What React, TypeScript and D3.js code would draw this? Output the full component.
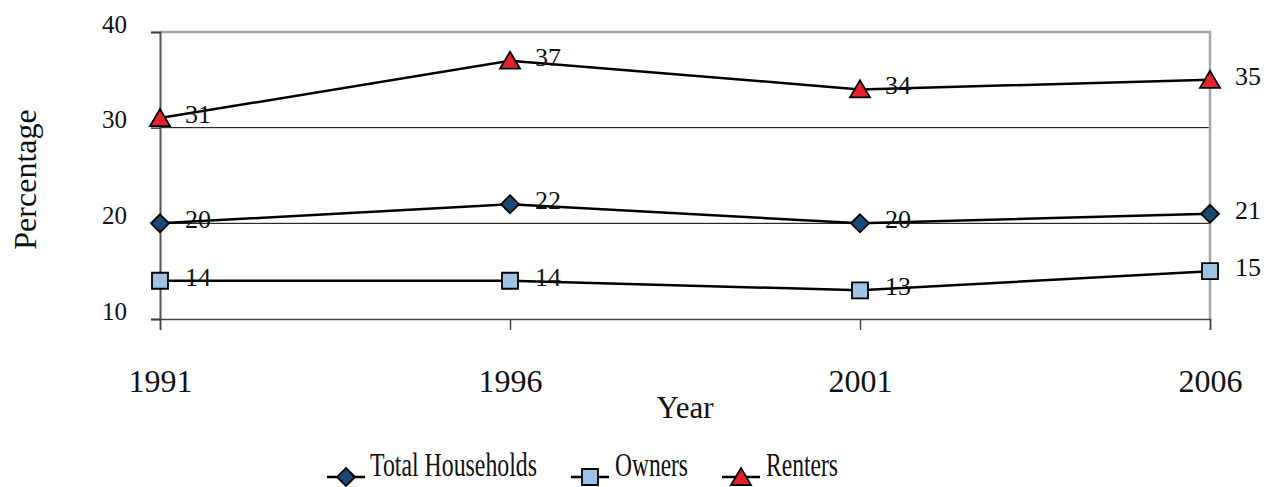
import React, { useEffect, useRef } from 'react';
import * as d3 from 'd3';

const years = ['1991', '1996', '2001', '2006'];
const totalHouseholds = [20, 22, 20, 21];
const owners = [14, 14, 13, 15];
const renters = [31, 37, 34, 35];
const yTicks = [10, 20, 30, 40];

const series = [
  { name: 'Total Households', values: totalHouseholds, shape: 'diamond', fill: '#174a74' },
  { name: 'Owners', values: owners, shape: 'square', fill: '#9dc3e6' },
  { name: 'Renters', values: renters, shape: 'triangle', fill: '#e3232b' },
];

const FONT = "'Liberation Serif', 'Times New Roman', 'DejaVu Serif', serif";

const App = () => {
  const ref = useRef<SVGSVGElement>(null);

  useEffect(() => {
    const svg = d3.select(ref.current);
    svg.selectAll('*').remove();

    const left = 160, right = 1210, top = 32, bottom = 319;

    const x = d3.scalePoint<string>().domain(years).range([left, right]);
    const y = d3.scaleLinear().domain([10, 40]).range([bottom, top]);

    // gridlines (inner) in black
    svg.append('g')
      .selectAll('line')
      .data(yTicks.filter(t => t > 10 && t < 40))
      .enter()
      .append('line')
      .attr('x1', left).attr('x2', right)
      .attr('y1', d => y(d)).attr('y2', d => y(d))
      .attr('stroke', '#000').attr('stroke-width', 1);

    // gray frame top and right
    svg.append('path')
      .attr('d', `M${left},${y(40)}H${right}V${y(10)}`)
      .attr('fill', 'none')
      .attr('stroke', '#a6a6a6')
      .attr('stroke-width', 2.5);

    // left axis
    const yAxis = svg.append('g')
      .attr('transform', `translate(${left},0)`)
      .call(d3.axisLeft(y).tickValues(yTicks).tickSize(9).tickPadding(24).tickFormat(d3.format('d')));
    yAxis.select('.domain').attr('stroke', '#555').attr('stroke-width', 2);
    yAxis.selectAll('.tick line').attr('stroke', '#444').attr('stroke-width', 1.5);
    yAxis.selectAll('.tick text')
      .style('font-family', FONT)
      .style('font-size', '25px')
      .attr('fill', '#111')
      .attr('dy', '0')
      .attr('x', -33);

    // bottom axis
    const xAxis = svg.append('g')
      .attr('transform', `translate(0,${bottom})`)
      .call(d3.axisBottom(x).tickSizeOuter(0).tickSize(11));
    xAxis.select('.domain').attr('stroke', '#444').attr('stroke-width', 1.5);
    xAxis.selectAll('.tick line').attr('stroke', '#444').attr('stroke-width', 1.5);
    xAxis.selectAll('.tick text')
      .style('font-family', FONT)
      .style('font-size', '32px')
      .attr('fill', '#111')
      .attr('dy', '0')
      .attr('y', 73);

    // axis titles
    svg.append('text')
      .attr('x', (left + right) / 2)
      .attr('y', 418)
      .attr('text-anchor', 'middle')
      .style('font-family', FONT)
      .style('font-size', '31px')
      .attr('fill', '#111')
      .text('Year');

    svg.append('text')
      .attr('transform', `translate(36,${(top + bottom) / 2 + 4}) rotate(-90)`)
      .attr('text-anchor', 'middle')
      .style('font-family', FONT)
      .style('font-size', '32px')
      .attr('fill', '#111')
      .text('Percentage');

    const symbolPath = (shape: string) => {
      if (shape === 'diamond') return 'M0,-9L9,0L0,9L-9,0Z';
      if (shape === 'square') return 'M-8,-8H8V8H-8Z';
      return 'M0,-9L10,8H-10Z';
    };

    const line = d3.line<number>()
      .x((_, i) => x(years[i]) as number)
      .y(d => y(d));

    series.forEach(s => {
      svg.append('path')
        .datum(s.values)
        .attr('d', line)
        .attr('fill', 'none')
        .attr('stroke', '#000')
        .attr('stroke-width', 2.5);

      svg.append('g')
        .selectAll('path')
        .data(s.values)
        .enter()
        .append('path')
        .attr('transform', (d, i) => `translate(${x(years[i])},${y(d)})`)
        .attr('d', symbolPath(s.shape))
        .attr('fill', s.fill)
        .attr('stroke', '#000')
        .attr('stroke-width', 1.8);

      svg.append('g')
        .selectAll('text')
        .data(s.values)
        .enter()
        .append('text')
        .attr('x', (d, i) => (x(years[i]) as number) + 25)
        .attr('y', d => y(d) + 5)
        .style('font-family', FONT)
        .style('font-size', '26px')
        .attr('fill', '#111')
        .text(d => d);
    });

    // legend
    const legendX = [327, 571, 722];
    const legendW = [167, 73, 72];
    const legendY = 477;
    series.forEach((s, i) => {
      const g = svg.append('g').attr('transform', `translate(${legendX[i]},${legendY})`);
      g.append('line')
        .attr('x1', 0).attr('x2', 38)
        .attr('stroke', '#000').attr('stroke-width', 2.5);
      g.append('path')
        .attr('transform', 'translate(19,0)')
        .attr('d', symbolPath(s.shape))
        .attr('fill', s.fill)
        .attr('stroke', '#000')
        .attr('stroke-width', 1.8);
      g.append('text')
        .attr('x', i === 0 ? 43 : 44)
        .attr('y', -1)
        .attr('textLength', legendW[i])
        .attr('lengthAdjust', 'spacingAndGlyphs')
        .style('font-family', FONT)
        .style('font-size', '34px')
        .attr('fill', '#111')
        .text(s.name);
    });
  }, []);

  return (
    <svg
      ref={ref}
      width={1268}
      height={487}
      style={{ position: 'absolute', left: 0, top: 0, background: '#fff' }}
    />
  );
};

export default App;
